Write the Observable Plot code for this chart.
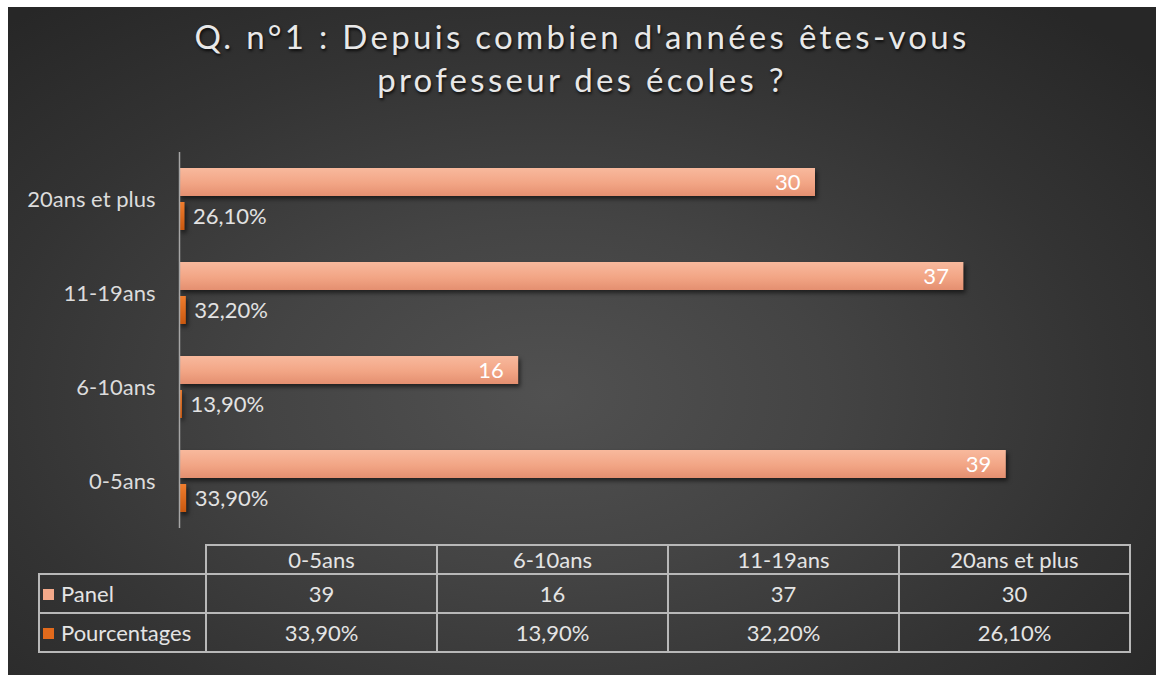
<!DOCTYPE html>
<html>
<head>
<meta charset="utf-8">
<script src="https://cdn.jsdelivr.net/npm/d3@7"></script>
<script src="https://cdn.jsdelivr.net/npm/@observablehq/plot@0.6"></script>
<style>
  html, body { margin: 0; padding: 0; background: #ffffff; }
  body { width: 1156px; height: 675px; position: relative; overflow: hidden; font-family: Lato, "Open Sans", sans-serif; }
  #panel {
    position: absolute; left: 8px; top: 7px; width: 1148px; height: 668px;
    background: radial-gradient(ellipse 70% 75% at 47% 58%, #515151 0%, #444444 35%, #333333 70%, #272727 100%);
  }
  #title {
    position: absolute; left: 0; top: 8px; width: 1148px; text-align: center;
    color: #e8e8e8; font-size: 33px; letter-spacing: 3.3px; line-height: 43px;
    text-shadow: 1px 2px 3px rgba(0,0,0,0.8);
  }
  #chart { position: absolute; left: 0; top: 133px; }
  #table { position: absolute; left: 30px; top: 537px; border-collapse: collapse; color: #e4e4e4; font-size: 22px; }
  #table td { border: 2px solid #b8b8b8; text-align: center; padding: 0; }
  #table tr.head td { height: 27px; }
  #table tr.row td { height: 37px; }
  #table td.blank { border-top: none; border-left: none; }
  #table td.leg { text-align: left; padding-left: 3px; white-space: nowrap; }
  .sq { display: inline-block; width: 11px; height: 11px; margin-right: 7px; vertical-align: 2px; }
</style>
</head>
<body>
<div id="panel">
  <div id="title"></div>
  <div id="chart"></div>
  <table id="table"></table>
</div>
<script>
// ---- data ----
const titleLines = ["Q. n°1 : Depuis combien d'années êtes-vous", "professeur des écoles ?"];
const categories = ["0-5ans", "6-10ans", "11-19ans", "20ans et plus"];
const panel = [39, 16, 37, 30];
const percentages = [33.9, 13.9, 32.2, 26.1];
const seriesNames = ["Panel", "Pourcentages"];
const seriesColors = ["#F3A98A", "#E26A1C"];

const fmtPct = v => v.toFixed(2).replace(".", ",") + "%";

// ---- title ----
document.getElementById("title").innerHTML = titleLines.join("<br>");

// ---- rows for Plot ----
const panelRows = categories.map((c, i) => ({cat: c, series: seriesNames[0], value: panel[i], label: String(panel[i])}));
const pctRows = categories.map((c, i) => ({cat: c, series: seriesNames[1], value: percentages[i] / 100, label: fmtPct(percentages[i])}));

const defs = () => {
  const d = d3.create("svg:defs");
  const g1 = d.append("linearGradient").attr("id", "gPanel").attr("x1", 0).attr("x2", 0).attr("y1", 0).attr("y2", 1);
  g1.append("stop").attr("offset", "0%").attr("stop-color", "#F8B99D");
  g1.append("stop").attr("offset", "55%").attr("stop-color", "#F2A585");
  g1.append("stop").attr("offset", "100%").attr("stop-color", "#E48F70");
  const g2 = d.append("linearGradient").attr("id", "gPct").attr("x1", 0).attr("x2", 0).attr("y1", 0).attr("y2", 1);
  g2.append("stop").attr("offset", "0%").attr("stop-color", "#F07D2E");
  g2.append("stop").attr("offset", "100%").attr("stop-color", "#C9580F");
  return d.node();
};

const chart = Plot.plot({
  width: 1148,
  height: 402,
  marginLeft: 171,
  marginRight: 23,
  marginTop: 12,
  marginBottom: 14,
  style: {background: "transparent", color: "#dcdcdc", fontFamily: "Lato, 'Open Sans', sans-serif", fontSize: "22px", overflow: "visible"},
  x: {domain: [0, 45], axis: null},
  y: {domain: seriesNames, axis: null, paddingInner: 0.171, paddingOuter: 0.43},
  fy: {domain: categories.slice().reverse(), padding: 0, label: null, axis: "left", tickSize: 0, tickPadding: 24},
  marks: [
    defs,
    Plot.barX(panelRows, {fy: "cat", y: "series", x: "value", fill: "url(#gPanel)"}),
    Plot.barX(pctRows, {fy: "cat", y: "series", x: "value", fill: "url(#gPct)"}),
    Plot.ruleX([0], {stroke: "#a6a6a6", strokeWidth: 1.5}),
    Plot.text(panelRows, {fy: "cat", y: "series", x: "value", text: "label", textAnchor: "end", dx: -15, fill: "#ffffff", fontSize: 22}),
    Plot.text(pctRows, {fy: "cat", y: "series", x: "value", text: "label", textAnchor: "start", dx: 8, fill: "#e2e2e2", fontSize: 22})
  ]
});
d3.select(chart).selectAll("rect").style("filter", "drop-shadow(2px 3px 2px rgba(0,0,0,0.55))");
document.getElementById("chart").appendChild(chart);

// ---- data table ----
const table = d3.select("#table");
const head = table.append("tr").attr("class", "head");
head.append("td").attr("class", "blank").style("width", "166px");
categories.forEach(c => head.append("td").style("width", "229px").text(c));
const seriesValues = [panel.map(String), percentages.map(fmtPct)];
seriesNames.forEach((s, k) => {
  const tr = table.append("tr").attr("class", "row");
  const leg = tr.append("td").attr("class", "leg");
  leg.append("span").attr("class", "sq").style("background", seriesColors[k]);
  leg.append("span").text(s);
  seriesValues[k].forEach(v => tr.append("td").text(v));
});
</script>
</body>
</html>
